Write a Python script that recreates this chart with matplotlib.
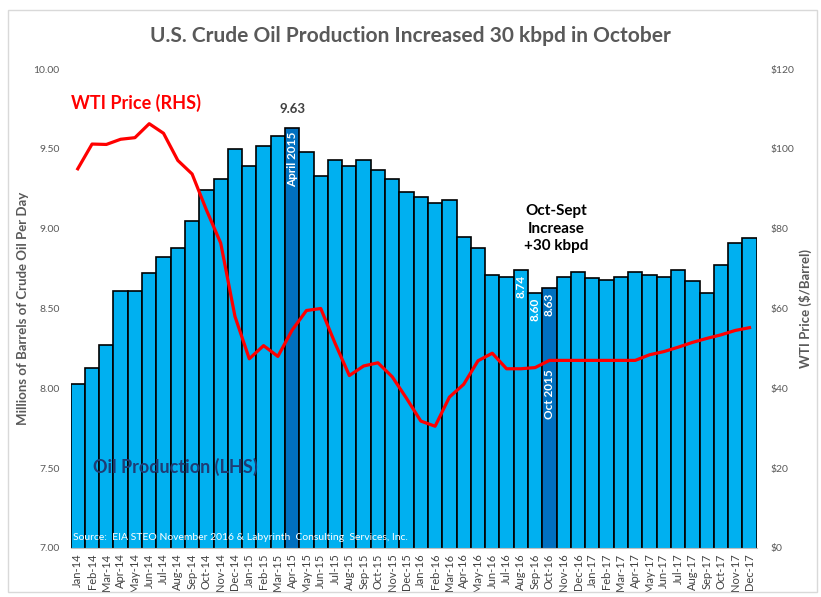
import matplotlib

matplotlib.use("Agg")
import matplotlib.pyplot as plt
from matplotlib.patches import Rectangle

plt.rcParams["font.family"] = ["Lato", "DejaVu Sans"]

months = [
    "Jan-14", "Feb-14", "Mar-14", "Apr-14", "May-14", "Jun-14", "Jul-14", "Aug-14",
    "Sep-14", "Oct-14", "Nov-14", "Dec-14", "Jan-15", "Feb-15", "Mar-15", "Apr-15",
    "May-15", "Jun-15", "Jul-15", "Aug-15", "Sep-15", "Oct-15", "Nov-15", "Dec-15",
    "Jan-16", "Feb-16", "Mar-16", "Apr-16", "May-16", "Jun-16", "Jul-16", "Aug-16",
    "Sep-16", "Oct-16", "Nov-16", "Dec-16", "Jan-17", "Feb-17", "Mar-17", "Apr-17",
    "May-17", "Jun-17", "Jul-17", "Aug-17", "Sep-17", "Oct-17", "Nov-17", "Dec-17",
]
production = [
    8.03, 8.13, 8.27, 8.61, 8.61, 8.72, 8.82, 8.88,
    9.05, 9.24, 9.31, 9.50, 9.39, 9.52, 9.58, 9.63,
    9.48, 9.33, 9.43, 9.39, 9.43, 9.37, 9.31, 9.23,
    9.20, 9.16, 9.18, 8.95, 8.88, 8.71, 8.70, 8.74,
    8.60, 8.63, 8.70, 8.73, 8.69, 8.68, 8.70, 8.73,
    8.71, 8.70, 8.74, 8.67, 8.60, 8.77, 8.91, 8.94,
]
wti_price = [
    95.0, 101.2, 101.1, 102.4, 102.8, 106.3, 103.9, 97.1,
    93.7, 84.7, 76.4, 58.0, 47.4, 50.7, 48.0, 54.6,
    59.5, 60.0, 51.3, 43.2, 45.6, 46.4, 42.9, 37.5,
    31.8, 30.5, 37.8, 41.0, 46.9, 48.8, 44.9, 44.9,
    45.2, 47.0, 47.0, 47.0, 47.0, 47.0, 47.0, 47.0,
    48.4, 49.2, 50.3, 51.5, 52.5, 53.4, 54.5, 55.2,
]
highlight = ["Apr-15", "Oct-16"]

LIGHT = "#00B0F0"
DARK = "#0070C0"
GRAY = "#595959"

fig = plt.figure(figsize=(8.21, 5.97), dpi=100)
fig.patches.append(Rectangle((0.010, 0.008), 0.985, 0.976, transform=fig.transFigure,
                             fill=False, edgecolor="#d9d9d9", linewidth=1.0))

ax = fig.add_axes([0.086, 0.0821, 0.8357, 0.8023])
ax2 = ax.twinx()

x = list(range(len(months)))
colors = [DARK if m in highlight else LIGHT for m in months]
ax.bar(x, production, width=1.0, color=colors, edgecolor="black", linewidth=1.2, zorder=2)
ax.set_xlim(-0.5, len(months) - 0.5)
ax.set_ylim(7.0, 10.0)
ax.set_yticks([7.0, 7.5, 8.0, 8.5, 9.0, 9.5, 10.0])
ax.set_yticklabels([f"{v:.2f}" for v in [7.0, 7.5, 8.0, 8.5, 9.0, 9.5, 10.0]])
ax.set_xticks(x)
ax.set_xticklabels(months, rotation=90)

ax2.plot(x, wti_price, color="#FF0000", linewidth=2.3, zorder=3)
ax2.set_ylim(0, 120)
ax2.set_yticks(range(0, 121, 20))
ax2.set_yticklabels([f"${v}" for v in range(0, 121, 20)])

for a in (ax, ax2):
    for s in a.spines.values():
        s.set_visible(False)
    a.tick_params(length=0, colors=GRAY, labelsize=7.5)
ax.spines["bottom"].set_visible(True)
ax.spines["bottom"].set_color("#bfbfbf")
ax.tick_params(axis="x", labelsize=8, colors="#404040", pad=4)
ax.tick_params(axis="y", pad=8)
ax2.tick_params(axis="y", pad=10)

ax.set_ylabel("Millions of Barrels of Crude Oil Per Day", fontsize=9.5,
              fontweight="bold", color=GRAY, labelpad=3)
ax2.set_ylabel("WTI Price ($/Barrel)", fontsize=9.5, fontweight="bold",
               color=GRAY, labelpad=3)

fig.text(0.5, 0.94, "U.S. Crude Oil Production Increased 30 kbpd in October",
         ha="center", va="center", fontsize=15, fontweight="bold", color=GRAY)

# annotations
i_apr = months.index("Apr-15")
i_oct = months.index("Oct-16")
i_aug = months.index("Aug-16")
i_sep = months.index("Sep-16")
ax.text(i_apr, production[i_apr] + 0.08, f"{production[i_apr]:.2f}", ha="center",
        va="bottom", fontsize=9.5, fontweight="bold", color="#404040", zorder=5)
ax.text(i_apr, production[i_apr] - 0.02, "April 2015", rotation=90, ha="center",
        va="top", fontsize=8.5, fontweight="bold", color="white", zorder=5)
ax.text(i_aug, production[i_aug] - 0.03, f"{production[i_aug]:.2f}", rotation=90,
        ha="center", va="top", fontsize=8.5, fontweight="bold", color="white", zorder=5)
ax.text(i_sep, production[i_sep] - 0.03, f"{production[i_sep]:.2f}", rotation=90,
        ha="center", va="top", fontsize=8.5, fontweight="bold", color="white", zorder=5)
ax.text(i_oct, production[i_oct] - 0.03, f"{production[i_oct]:.2f}", rotation=90,
        ha="center", va="top", fontsize=8.5, fontweight="bold", color="white", zorder=5)
ax.text(i_oct, 8.12, "Oct 2015", rotation=90, ha="center", va="top", fontsize=8.5,
        fontweight="bold", color="white", zorder=5)
ax.text(i_oct + 0.5, 9.0, "Oct-Sept\nIncrease\n+30 kbpd", ha="center", va="center",
        fontsize=11, fontweight="bold", color="black", linespacing=1.3, zorder=5)

ax.text(0.0, 1.0 - 0.07, "WTI Price (RHS)", transform=ax.transAxes, ha="left",
        va="center", fontsize=13, fontweight="bold", color="#FF0000", zorder=5)
ax.text(0.033, 0.17, "Oil Production (LHS)", transform=ax.transAxes, ha="left",
        va="center", fontsize=13, fontweight="bold", color="#1F3C74", zorder=5)
ax.text(0.003, 0.012, "Source:  EIA STEO November 2016 & Labyrinth  Consulting  Services, Inc.",
        transform=ax.transAxes, ha="left", va="bottom", fontsize=7.5, color="white",
        zorder=5)

fig.savefig("out.png", dpi=100)
